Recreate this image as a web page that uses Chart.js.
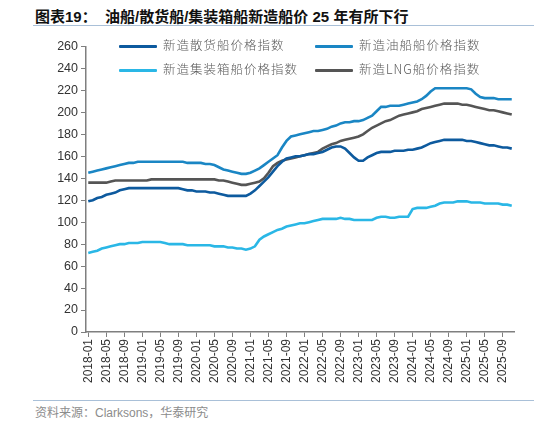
<!DOCTYPE html>
<html>
<head>
    <meta charset="utf-8">
    <title>油船/散货船/集装箱船新造船价</title>
    <script src="https://cdn.jsdelivr.net/npm/chart.js"></script>
    <style>
        body { margin: 0; width: 534px; height: 424px; background: #fff; position: relative; overflow: hidden;
               font-family: "Liberation Sans", "Noto Sans CJK SC", sans-serif; }
        #title { position: absolute; left: 35px; top: 5px; font-size: 15px; font-weight: bold; color: #111; white-space: pre; }
        #topline { position: absolute; left: 33px; right: 0; top: 25px; border-top: 1px solid #a9c0d8; }
        #bottomline { position: absolute; left: 33px; right: 0; top: 400px; border-top: 1px solid #a9c0d8; }
        #source { position: absolute; left: 35px; top: 403px; font-size: 12px; color: #8c8c8c; }
        #wrap { position: absolute; left: 0; top: 36px; width: 534px; height: 362px; }
        .lg { position: absolute; font-size: 12.5px; color: #595959; font-family: "Noto Sans CJK SC", sans-serif; font-weight: 300; letter-spacing: 1px; white-space: nowrap; }
        .lg span { display: inline-block; width: 38px; height: 3px; vertical-align: middle; margin-right: 6px; border-radius: 1px; }
    </style>
</head>
<body>
    <div id="title">图表19：  油船/散货船/集装箱船新造船价 25 年有所下行</div>
    <div id="topline"></div>
    <div id="wrap"><canvas id="shipChart"></canvas></div>
    <div id="legend"></div>
    <div id="bottomline"></div>
    <div id="source">资料来源：Clarksons，华泰研究</div>
    <script>
        // months 2018-01 .. 2025-11
        var months = [];
        for (var y = 2018; y <= 2025; y++) {
            for (var m = 1; m <= 12; m++) {
                if (y === 2025 && m > 11) break;
                months.push(y + '-' + (m < 10 ? '0' + m : m));
            }
        }

        var seriesNames = ['新造散货船价格指数', '新造油船船价格指数', '新造集装箱船价格指数', '新造LNG船价格指数'];
        var seriesColors = ['#0d5a9e', '#1a86c4', '#2ab7e6', '#555555'];

        var bulkIndex = [
            119, 120, 122, 123, 125, 126, 127, 129, 130, 131, 131, 131,
            131, 131, 131, 131, 131, 131, 131, 131, 131, 130, 129, 129,
            128, 128, 128, 127, 127, 126, 125, 124, 124, 124, 124, 124,
            126, 129, 133, 137, 141, 146, 151, 155, 158, 159, 160, 160,
            161, 162, 162, 163, 164, 166, 168, 169, 169, 167, 163, 159,
            156, 156, 159, 161, 163, 164, 164, 164, 165, 165, 165, 166,
            166, 167, 168, 170, 172, 173, 174, 175, 175, 175, 175, 175,
            174, 174, 173, 172, 171, 170, 170, 169, 168, 168, 167
        ];
        var tankerIndex = [
            145, 146, 147, 148, 149, 150, 151, 152, 153, 154, 154, 155,
            155, 155, 155, 155, 155, 155, 155, 155, 155, 155, 154, 154,
            154, 154, 153, 153, 152, 150, 148, 147, 146, 145, 144, 144,
            145, 147, 149, 152, 155, 158, 161, 168, 174, 178, 179, 180,
            181, 182, 183, 183, 184, 185, 187, 188, 190, 191, 191, 192,
            192, 193, 195, 197, 201, 205, 205, 206, 206, 206, 207, 208,
            209, 210, 212, 215, 219, 222, 222, 222, 222, 222, 222, 222,
            222, 221, 217, 214, 213, 213, 213, 212, 212, 212, 212
        ];
        var containerIndex = [
            72, 73, 74, 76, 77, 78, 79, 80, 80, 81, 81, 81,
            82, 82, 82, 82, 82, 81, 80, 80, 80, 80, 79, 79,
            79, 79, 79, 79, 78, 78, 78, 77, 77, 76, 76, 75,
            76, 78, 84, 87, 89, 91, 93, 94, 96, 97, 98, 99,
            99, 100, 101, 102, 103, 103, 103, 103, 104, 103, 103, 102,
            102, 102, 102, 102, 104, 105, 105, 104, 104, 105, 105, 105,
            112, 113, 113, 113, 114, 115, 117, 118, 118, 118, 119, 119,
            119, 118, 118, 118, 117, 117, 117, 117, 116, 116, 115
        ];
        var lngIndex = [
            136, 136, 136, 136, 136, 137, 138, 138, 138, 138, 138, 138,
            138, 138, 139, 139, 139, 139, 139, 139, 139, 139, 139, 139,
            139, 139, 139, 139, 139, 138, 138, 137, 136, 135, 134, 134,
            135, 136, 137, 140, 145, 151, 154, 156, 157, 158, 159, 160,
            161, 162, 163, 164, 167, 169, 171, 172, 174, 175, 176, 177,
            178, 180, 183, 186, 188, 190, 192, 193, 195, 197, 198, 199,
            200, 201, 203, 204, 205, 206, 207, 208, 208, 208, 208, 207,
            207, 206, 205, 204, 203, 202, 202, 201, 200, 199, 198
        ];
        var yTicks = [0, 20, 40, 60, 80, 100, 120, 140, 160, 180, 200, 220, 240, 260];

        // legend, two columns like the original
        var legendPos = [[119, 35], [315, 35], [119, 59], [315, 59]];
        var legendBox = document.getElementById('legend');
        seriesNames.forEach(function (name, i) {
            var d = document.createElement('div');
            d.className = 'lg';
            d.style.left = legendPos[i][0] + 'px';
            d.style.top = legendPos[i][1] + 'px';
            d.innerHTML = '<span style="background:' + seriesColors[i] + '"></span>' + name;
            legendBox.appendChild(d);
        });

        var axisColor = '#7f7f7f';
        var allSeries = [bulkIndex, tankerIndex, containerIndex, lngIndex];

        var ctx = document.getElementById('shipChart').getContext('2d');
        var shipChart = new Chart(ctx, {
            type: 'line',
            data: {
                labels: months,
                datasets: allSeries.map(function (arr, i) {
                    return {
                        label: seriesNames[i],
                        data: arr,
                        borderColor: seriesColors[i],
                        backgroundColor: seriesColors[i],
                        borderWidth: 2.6,
                        pointRadius: 0,
                        tension: 0,
                        order: i === 3 ? 4 : i
                    };
                })
            },
            options: {
                responsive: true,
                maintainAspectRatio: false,
                animation: false,
                layout: { padding: { left: 0, right: 20, top: 8, bottom: 0 } },
                plugins: { legend: { display: false }, tooltip: { enabled: false } },
                scales: {
                    x: {
                        type: 'category',
                        offset: true,
                        grid: { display: true, drawOnChartArea: false, drawTicks: true, tickLength: 5, color: axisColor, offset: false },
                        border: { display: true, color: axisColor, width: 1.5 },
                        ticks: {
                            autoSkip: false,
                            maxRotation: 90,
                            minRotation: 90,
                            padding: 2,
                            color: '#333',
                            font: { family: 'Liberation Sans', size: 12 },
                            callback: function (v, i) { return i % 4 === 0 ? this.getLabelForValue(v) : null; }
                        },
                        afterFit: function (s) { s.height = 66; }
                    },
                    y: {
                        min: 0,
                        max: 260,
                        afterBuildTicks: function (s) { s.ticks = yTicks.map(function (v) { return { value: v }; }); },
                        grid: { display: true, drawOnChartArea: false, drawTicks: true, tickLength: 5, color: axisColor },
                        border: { display: true, color: axisColor, width: 1.5 },
                        ticks: { color: '#333', padding: 3, font: { family: 'Liberation Sans', size: 12.5 } },
                        afterFit: function (s) { s.width = 86; }
                    }
                }
            }
        });
    </script>
</body>
</html>
